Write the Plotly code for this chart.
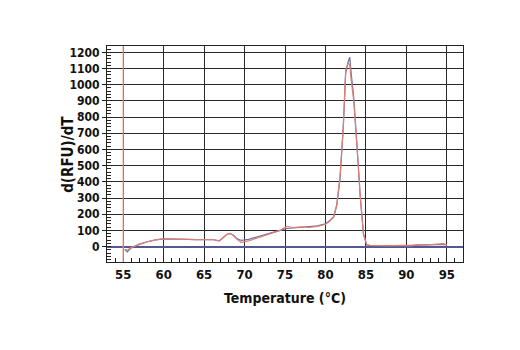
import plotly.graph_objects as go

temps = [55.2, 55.5, 56.0, 57.0, 58.0, 59.0, 60.0, 61.0, 62.0, 63.0, 64.0, 65.0, 66.0, 66.9,
         67.4, 67.8, 68.2, 68.6, 69.0, 69.6, 70.5, 71.5, 72.5, 73.5, 74.5, 75.2, 76.0, 77.0,
         78.0, 79.0, 80.0, 80.5, 81.0, 81.4, 81.8, 82.2, 82.5, 82.8, 83.0, 83.2, 83.5, 83.9,
         84.3, 84.7, 85.1, 85.5, 86.5, 87.5, 88.5, 89.5, 90.5, 91.5, 92.5, 93.5, 94.5, 95.0]

red_vals = [-18, -22, -5, 15, 30, 42, 48, 48, 46, 45, 43, 44, 44, 36,
            55, 75, 82, 70, 48, 25, 35, 52, 68, 85, 102, 125, 118, 122,
            118, 125, 138, 155, 185, 260, 430, 740, 1090, 1135, 1120, 1020, 900, 620,
            310, 80, 12, 8, 7, 5, 6, 8, 5, 12, 10, 14, 18, 12]

blue_vals = [-18, -32, -8, 14, 30, 42, 48, 48, 46, 45, 43, 44, 44, 36,
             55, 75, 82, 72, 52, 38, 45, 58, 72, 88, 102, 112, 115, 118,
             122, 128, 140, 158, 180, 255, 420, 730, 1070, 1140, 1170, 1060, 920, 620,
             310, 75, 10, 6, 4, 3, 5, 7, 6, 10, 9, 12, 14, 10]

x_ticks = [55, 60, 65, 70, 75, 80, 85, 90, 95]
y_ticks = [0, 100, 200, 300, 400, 500, 600, 700, 800, 900, 1000, 1100, 1200]
threshold_temp = 55

FONT = "DejaVu Sans Condensed, Liberation Sans Narrow, Arial Narrow, sans-serif"

fig = go.Figure()
fig.add_trace(go.Scatter(x=temps, y=blue_vals, mode="lines",
                         line=dict(color="#6f6fa6", width=1.2), showlegend=False))
fig.add_trace(go.Scatter(x=temps, y=red_vals, mode="lines",
                         line=dict(color="#dc7f74", width=1.2), showlegend=False))

fig.add_shape(type="line", x0=threshold_temp, x1=threshold_temp, y0=0, y1=1, yref="paper",
              line=dict(color="#e9937a", width=1.2), layer="above")

fig.add_annotation(text="d(RFU)/dT", textangle=-90, xref="paper", yref="paper",
                   x=-0.11, y=0.5, xanchor="center", yanchor="middle", showarrow=False,
                   font=dict(family=FONT, size=15, weight="bold", color="#111"))

fig.update_layout(
    width=520, height=350,
    margin=dict(l=99, r=65, t=38, b=96),
    paper_bgcolor="white", plot_bgcolor="white",
    font=dict(family=FONT, size=12, color="#111", weight="bold"),
    xaxis=dict(
        range=[53, 97], tickvals=x_ticks, ticks="inside", ticklen=6, tickcolor="#222",
        minor=dict(dtick=1, ticks="inside", ticklen=4, tickcolor="#222", showgrid=False),
        showgrid=True, gridcolor="#2a2a2a", gridwidth=1,
        showline=True, linecolor="#222", linewidth=1, mirror=True,
        zeroline=False, automargin=False,
        tickfont=dict(family=FONT, size=13, weight="bold"),
        title=dict(text="Temperature (°C)", standoff=12,
                   font=dict(family=FONT, size=14, weight="bold")),
    ),
    yaxis=dict(
        range=[-95, 1239], tickvals=y_ticks, ticks="outside", ticklen=4, tickcolor="#222",
        minor=dict(dtick=20, ticks="inside", ticklen=4, tickcolor="#222", showgrid=False),
        showgrid=True, gridcolor="#2a2a2a", gridwidth=1,
        showline=True, linecolor="#222", linewidth=1, mirror=True,
        zeroline=True, zerolinecolor="#55588f", zerolinewidth=2,
        automargin=False,
        tickfont=dict(family=FONT, size=12, weight="bold"),
    ),
)

fig.write_html("out.html")
